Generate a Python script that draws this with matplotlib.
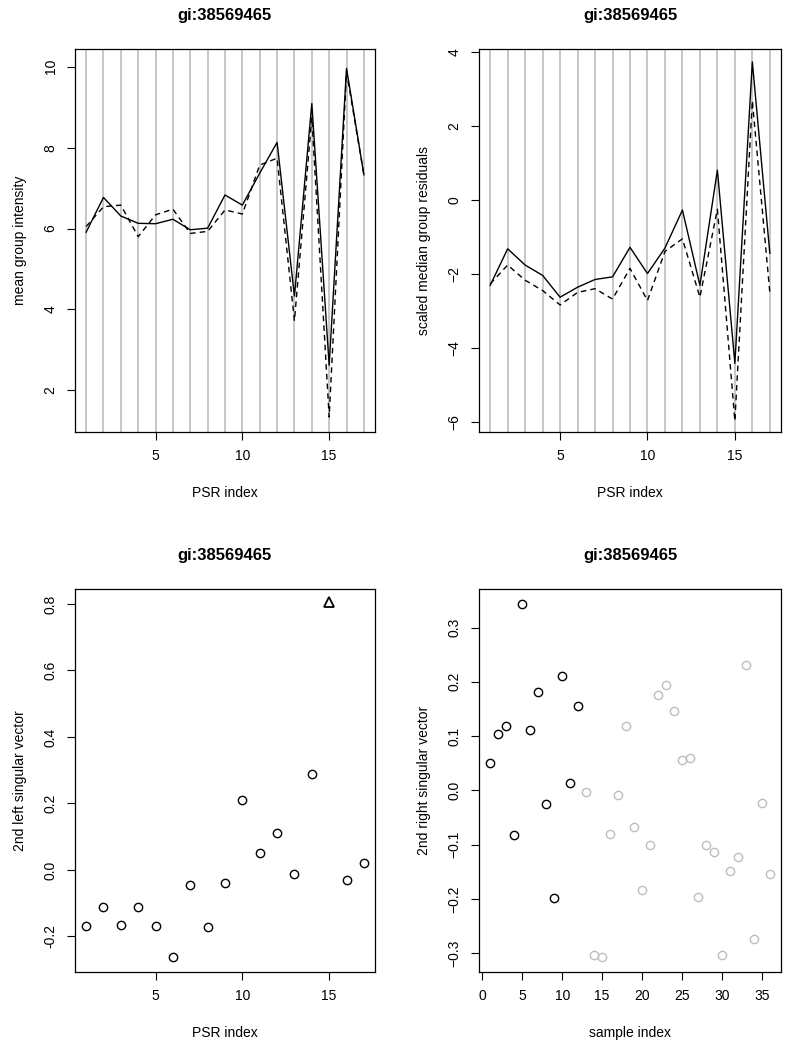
import numpy as np
import matplotlib
matplotlib.use('Agg')
import matplotlib.pyplot as plt

plt.rcParams['font.family'] = ['Liberation Sans', 'DejaVu Sans']

title = 'gi:38569465'

# 上排：PSR 指数 1..17
psr = np.arange(1, 18)
mean_solid = [5.91, 6.77, 6.31, 6.13, 6.12, 6.23, 5.97, 6.01, 6.83, 6.58,
              7.37, 8.13, 4.33, 9.09, 2.62, 9.96, 7.33]
mean_dashed = [6.05, 6.54, 6.58, 5.80, 6.34, 6.48, 5.88, 5.93, 6.46, 6.36,
               7.57, 7.74, 3.72, 8.75, 1.34, 9.88, 7.33]

resid_solid = [-2.31, -1.32, -1.76, -2.04, -2.63, -2.36, -2.15, -2.08, -1.28, -1.99,
               -1.30, -0.27, -2.31, 0.81, -4.42, 3.74, -1.44]
resid_dashed = [-2.27, -1.76, -2.17, -2.45, -2.84, -2.50, -2.40, -2.68, -1.85, -2.72,
                -1.39, -1.05, -2.63, -0.25, -5.98, 2.69, -2.50]

# 下排左：第二左奇异向量，第 15 个为三角形
left_sv = [-0.170, -0.110, -0.167, -0.110, -0.170, -0.263, -0.046, -0.172, -0.040, 0.209,
           0.052, 0.110, -0.012, 0.288, 0.805, -0.030, 0.021]
outlier_idx = 15

# 下排右：第二右奇异向量，前 12 个黑色，其余灰色
samples = np.arange(1, 37)
right_sv = [0.051, 0.103, 0.118, -0.083, 0.344, 0.111, 0.181, -0.026, -0.198, 0.210,
            0.013, 0.156, -0.003, -0.303, -0.308, -0.080, -0.008, 0.118, -0.067, -0.183,
            -0.101, 0.175, 0.194, 0.146, 0.055, 0.059, -0.196, -0.101, -0.113, -0.304,
            -0.148, -0.123, 0.230, -0.274, -0.023, -0.154]
n_group1 = 12

grey = '#BEBEBE'

fig = plt.figure(figsize=(7.88, 10.5), dpi=100)
W, H = 788, 1050


def make_ax(x0, y0, x1, y1):
    ax = fig.add_axes([x0 / W, 1 - y1 / H, (x1 - x0) / W, (y1 - y0) / H])
    for s in ax.spines.values():
        s.set_linewidth(0.9)
    ax.tick_params(direction='out', length=5.5, width=0.8, labelsize=10, pad=7)
    ax.tick_params(axis='y', labelrotation=90)
    for lab in ax.get_yticklabels():
        lab.set_va('center')
    ax.set_title(title, fontsize=12, fontweight='bold', pad=21)
    return ax


def finish(ax, xlabel, ylabel):
    ax.set_xlabel(xlabel, fontsize=10, labelpad=16)
    ax.set_ylabel(ylabel, fontsize=10, labelpad=12)
    for lab in ax.get_yticklabels():
        lab.set_va('center')


# 左上
ax1 = make_ax(75, 49, 375, 432)
for x in psr:
    ax1.axvline(x, color=grey, lw=1.2, zorder=1)
ax1.plot(psr, mean_solid, color='black', lw=1.0, zorder=3)
ax1.plot(psr, mean_dashed, color='black', lw=1.0, dashes=(4, 3), zorder=3)
ax1.set_xlim(0.36, 17.64)
ax1.set_ylim(0.97, 10.44)
ax1.set_xticks([5, 10, 15])
ax1.set_yticks([2, 4, 6, 8, 10])
finish(ax1, 'PSR index', 'mean group intensity')

# 右上
ax2 = make_ax(479, 49, 781, 432)
for x in psr:
    ax2.axvline(x, color=grey, lw=1.2, zorder=1)
ax2.plot(psr, resid_solid, color='black', lw=1.0, zorder=3)
ax2.plot(psr, resid_dashed, color='black', lw=1.0, dashes=(4, 3), zorder=3)
ax2.set_xlim(0.36, 17.64)
ax2.set_ylim(-6.28, 4.09)
ax2.set_xticks([5, 10, 15])
ax2.set_yticks([-6, -4, -2, 0, 2, 4])
finish(ax2, 'PSR index', 'scaled median group residuals')

# 左下
ax3 = make_ax(75, 589, 375, 972)
mask = psr != outlier_idx
ax3.plot(psr[mask], np.array(left_sv)[mask], 'o', mfc='none', mec='black',
         ms=6, mew=1.0)
ax3.plot(psr[~mask], np.array(left_sv)[~mask], '^', mfc='none', mec='black',
         ms=6.5, mew=1.3)
ax3.set_xlim(0.36, 17.64)
ax3.set_ylim(-0.307, 0.845)
ax3.set_xticks([5, 10, 15])
ax3.set_yticks([-0.2, 0.0, 0.2, 0.4, 0.6, 0.8])
ax3.set_yticklabels(['-0.2', '0.0', '0.2', '0.4', '0.6', '0.8'])
finish(ax3, 'PSR index', '2nd left singular vector')

# 右下
ax4 = make_ax(479, 589, 781, 972)
rsv = np.array(right_sv)
ax4.plot(samples[:n_group1], rsv[:n_group1], 'o', mfc='none', mec='black',
         ms=6, mew=1.0)
ax4.plot(samples[n_group1:], rsv[n_group1:], 'o', mfc='none', mec=grey,
         ms=6, mew=1.0)
ax4.set_xlim(-0.43, 37.4)
ax4.set_ylim(-0.335, 0.371)
ax4.set_xticks(np.arange(0, 40, 5))
ax4.set_yticks([-0.3, -0.2, -0.1, 0.0, 0.1, 0.2, 0.3])
ax4.set_yticklabels(['\u22120.3', '\u22120.2', '\u22120.1', '0.0', '0.1', '0.2', '0.3'])
finish(ax4, 'sample index', '2nd right singular vector')

fig.savefig('out.png', dpi=100)
